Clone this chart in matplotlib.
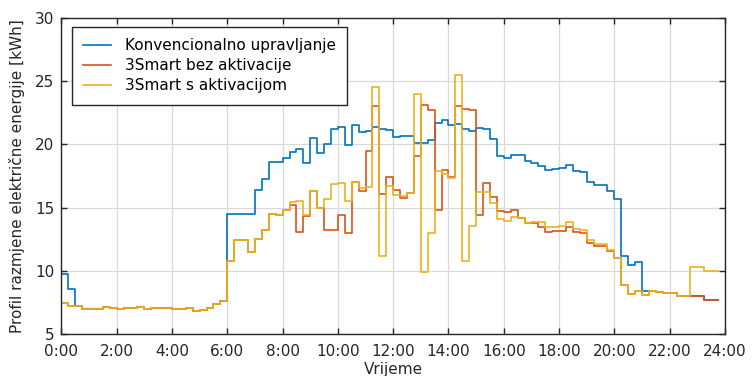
import numpy as np
import matplotlib
matplotlib.use("Agg")
import matplotlib.pyplot as plt

# 15-minute intervals, hours
hours = np.arange(96) * 0.25

konvencionalno = [
    9.75, 8.58, 7.25, 7.03, 7.03, 7.03, 7.13, 7.08, 7.03, 7.05, 7.08, 7.13,
    7.03, 7.05, 7.08, 7.10, 7.03, 7.03, 7.10, 6.84, 6.95, 7.10, 7.40, 7.66,
    14.5, 14.5, 14.5, 14.5, 16.4, 17.24, 18.58, 18.58, 18.9, 19.42, 19.6, 18.53,
    20.47, 19.29, 20.03, 21.2, 21.39, 19.97, 21.49, 20.99, 21.07, 21.36, 21.23, 21.13,
    20.57, 20.63, 20.68, 20.1, 20.1, 20.34, 21.7, 21.94, 21.55, 21.57, 21.18, 21.05,
    21.31, 21.23, 20.39, 19.07, 18.91, 19.18, 19.12, 18.65, 18.55, 18.28, 17.94, 18.05,
    18.1, 18.34, 17.86, 17.78, 16.99, 16.78, 16.78, 16.28, 15.7, 11.18, 10.5, 10.68,
    8.41, 8.44, 8.36, 8.26, 8.23, 8.05, 8.05, 8.05, 8.05, 7.73, 7.73, 7.73,
]

bez_aktivacije = [
    7.5, 7.25, 7.25, 7.03, 7.03, 7.03, 7.13, 7.08, 7.03, 7.05, 7.08, 7.13,
    7.03, 7.05, 7.08, 7.10, 7.03, 7.03, 7.10, 6.84, 6.95, 7.10, 7.40, 7.66,
    10.79, 12.45, 12.45, 11.5, 12.55, 13.24, 14.5, 14.45, 14.82, 15.2, 13.08, 14.34,
    16.29, 15.0, 13.24, 13.23, 14.41, 12.99, 17.02, 16.34, 19.44, 22.99, 16.07, 17.41,
    16.41, 15.78, 16.12, 19.1, 23.07, 22.73, 14.78, 17.94, 17.39, 22.99, 22.81, 22.7,
    14.39, 16.97, 15.86, 14.76, 14.65, 14.83, 14.18, 13.81, 13.81, 13.49, 13.04, 13.14,
    13.18, 13.44, 13.07, 12.97, 12.18, 11.97, 12.0, 11.6, 11.0, 8.89, 8.18, 8.42,
    8.07, 8.44, 8.36, 8.26, 8.23, 8.05, 8.05, 8.05, 8.05, 7.73, 7.73, 7.73,
]

s_aktivacijom = [
    7.5, 7.25, 7.25, 7.03, 7.03, 7.03, 7.13, 7.08, 7.03, 7.05, 7.08, 7.13,
    7.03, 7.05, 7.08, 7.10, 7.03, 7.03, 7.10, 6.84, 6.95, 7.10, 7.40, 7.66,
    10.79, 12.45, 12.45, 11.5, 12.55, 13.24, 14.5, 14.45, 14.82, 15.45, 15.5, 14.4,
    16.29, 15.0, 15.68, 16.86, 16.94, 15.54, 17.02, 16.55, 16.6, 24.54, 11.2, 16.7,
    15.99, 15.94, 16.12, 23.94, 9.94, 12.99, 17.86, 17.68, 17.31, 25.47, 10.75, 13.55,
    16.23, 16.23, 15.39, 14.1, 13.94, 14.23, 14.18, 13.75, 13.86, 13.88, 13.49, 13.49,
    13.52, 13.86, 13.34, 13.2, 12.44, 12.13, 12.1, 11.65, 11.0, 8.92, 8.2, 8.42,
    8.07, 8.44, 8.36, 8.26, 8.23, 8.05, 8.05, 10.33, 10.33, 10.0, 10.0, 10.0,
]

series_labels = ["Konvencionalno upravljanje", "3Smart bez aktivacije", "3Smart s aktivacijom"]
colors = ["#0072BD", "#D95319", "#EDB120"]
xtick_vals = list(range(0, 25, 2))
xtick_labels = [f"{h}:00" for h in xtick_vals]
ytick_vals = [5, 10, 15, 20, 25, 30]

plt.rcParams['font.family'] = ['DejaVu Sans']
fig = plt.figure(figsize=(7.52, 3.76), dpi=100)
ax = fig.add_axes([61.4/752, 1 - 334.3/376, (725 - 61.4)/752, (334.3 - 17.6)/376])

for data, lab, c in zip([konvencionalno, bez_aktivacije, s_aktivacijom], series_labels, colors):
    ax.plot(hours, data, drawstyle='steps-post', color=c, lw=1.2, label=lab)

ax.set_xlim(0, 24)
ax.set_ylim(5, 30)
ax.set_xticks(xtick_vals)
ax.set_xticklabels(xtick_labels)
ax.set_yticks(ytick_vals)
ax.tick_params(direction='in', top=True, right=True, length=4, width=1,
               colors='#262626', labelsize=11)
ax.tick_params(axis='x', pad=7)
ax.tick_params(axis='y', pad=5)
ax.grid(True, color='#d9d9d9', lw=0.9)
ax.set_axisbelow(True)
for sp in ax.spines.values():
    sp.set_color('#262626')
    sp.set_linewidth(1.0)

ax.set_xlabel("Vrijeme", fontsize=11, color='#262626', labelpad=2)
ax.set_ylabel("Profil razmjene električne energije [kWh]", fontsize=11, color='#262626', labelpad=7)

leg = ax.legend(loc='upper left', bbox_to_anchor=(72/752, 1 - 27/376), bbox_transform=fig.transFigure,
                fontsize=11, frameon=True, fancybox=False, borderaxespad=0,
                handlelength=1.8, labelspacing=0.32, borderpad=0.75, handletextpad=0.9)
leg.get_frame().set_edgecolor('#262626')
leg.get_frame().set_linewidth(1.0)
leg.get_frame().set_alpha(1)

fig.savefig("out.png", dpi=100)
